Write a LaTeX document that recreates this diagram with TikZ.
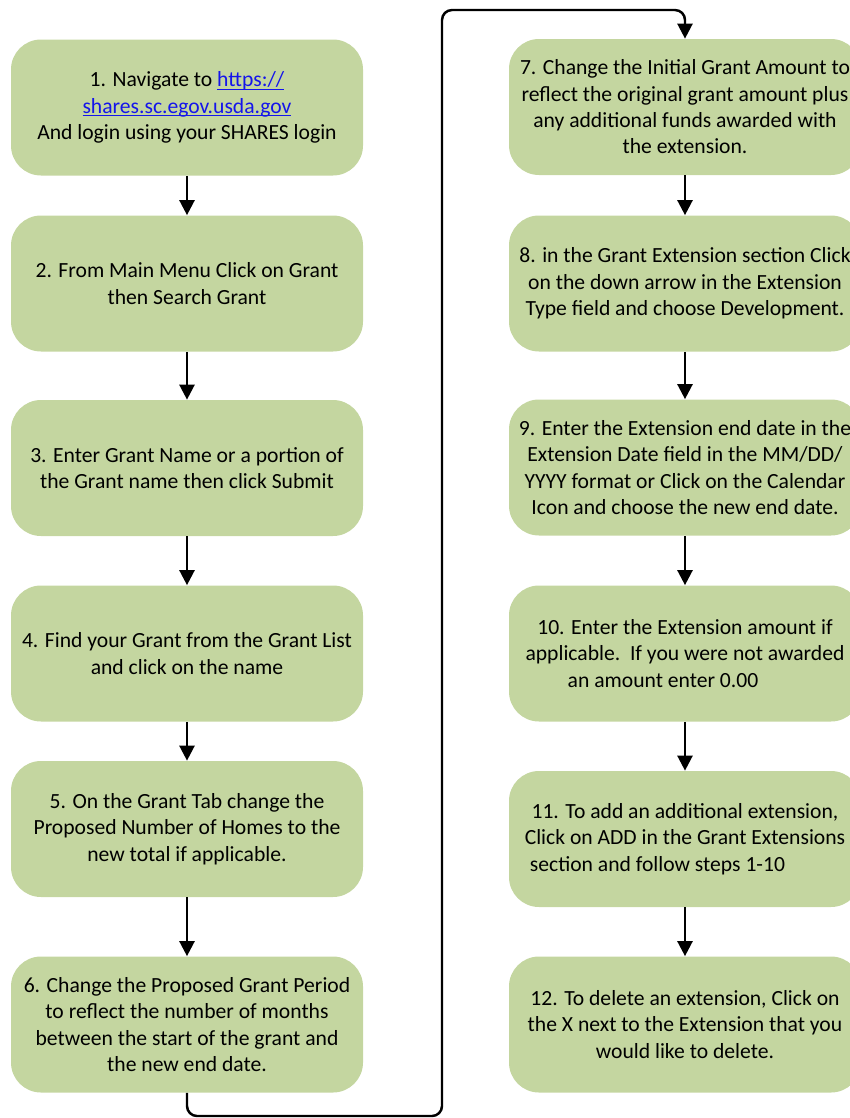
\documentclass[tikz,border=0pt]{standalone}
\usepackage{xcolor}
\usepackage{tikz}
\usepackage{fontspec}
\setmainfont{Carlito}
\usetikzlibrary{shapes,arrows,positioning,calc,arrows.meta}

\definecolor{boxgreen}{RGB}{196,214,160}
\definecolor{linkblue}{RGB}{20,20,235}
\newcommand{\weblink}[1]{\textcolor{linkblue}{\setbox0\hbox{#1}\rlap{\rule[-1.6pt]{\wd0}{0.6pt}}\box0}}

\tikzset{
    stepbox/.style={fill=boxgreen, rounded corners=0.6cm, minimum width=7.04cm, minimum height=2.72cm,
        align=center, inner sep=0pt, font=\fontsize{12.3}{15}\selectfont},
    flow/.style={line width=1.4pt, -{Triangle[length=0.3cm,width=0.3cm]}}
}

\begin{document}
\begin{tikzpicture}
    \useasboundingbox (0,0) rectangle (17,-22.36);
    \clip (0,0) rectangle (17,-22.36);

    % Left column
    \node[stepbox] (n1) at (3.74,-2.15) {1. Navigate to \weblink{https://}\\ \weblink{shares.sc.egov.usda.gov}\\ And login using your SHARES login};
    \node[stepbox] (n2) at (3.74,-5.67) {2. From Main Menu Click on Grant\\ then Search Grant};
    \node[stepbox] (n3) at (3.74,-9.36) {3. Enter Grant Name or a portion of\\ the Grant name then click Submit};
    \node[stepbox] (n4) at (3.74,-13.07) {4. Find your Grant from the Grant List\\ and click on the name};
    \node[stepbox] (n5) at (3.74,-16.58) {5. On the Grant Tab change the\\ Proposed Number of Homes to the\\ new total if applicable.};
    \node[stepbox] (n6) at (3.74,-20.49) {6. Change the Proposed Grant Period\\ to reflect the number of months\\ between the start of the grant and\\ the new end date.};

    % Right column
    \node[stepbox] (n7) at (13.7,-2.14) {7. Change the Initial Grant Amount to\\ reflect the original grant amount plus\\ any additional funds awarded with\\ the extension.};
    \node[stepbox] (n8) at (13.7,-5.67) {8. in the Grant Extension section Click\\ on the down arrow in the Extension\\ Type field and choose Development.};
    \node[stepbox] (n9) at (13.7,-9.35) {9. Enter the Extension end date in the\\ Extension Date field in the MM/DD/\\ YYYY format or Click on the Calendar\\ Icon and choose the new end date.};
    \node[stepbox] (n10) at (13.7,-13.07) {10. Enter the Extension amount if\\ applicable.\ \ If you were not awarded\\ an amount enter 0.00\kern0.88cm};
    \node[stepbox] (n11) at (13.7,-16.78) {11. To add an additional extension,\\ Click on ADD in the Grant Extensions\\ section and follow steps 1-10\kern1.1cm};
    \node[stepbox] (n12) at (13.7,-20.49) {12. To delete an extension, Click on\\ the X next to the Extension that you\\ would like to delete.};

    % Arrows
    \foreach \a/\b in {n1/n2,n2/n3,n3/n4,n4/n5,n5/n6,n7/n8,n8/n9,n9/n10,n10/n11,n11/n12}
        \draw[flow] (\a) -- (\b);

    % Loop from step 6 to step 7
    \coordinate (loopbot) at (8.84,-22.32);
    \coordinate (looptop) at (8.84,-0.2);
    \draw[flow, rounded corners=0.2cm] (n6.south) |- (loopbot) -- (looptop) -| (n7.north);

\end{tikzpicture}
\end{document}
